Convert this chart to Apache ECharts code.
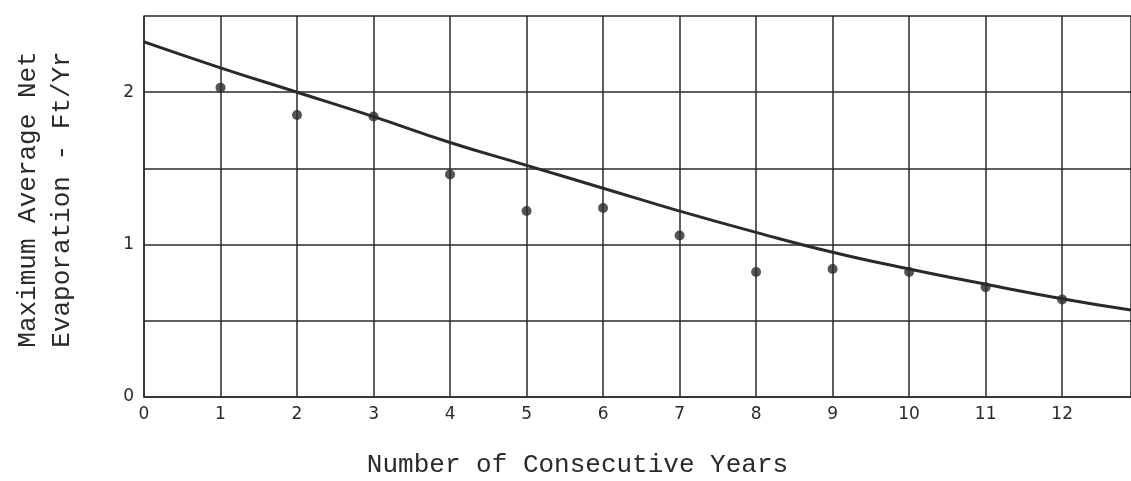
<!DOCTYPE html>
<html>
<head>
<meta charset="utf-8">
<script src="https://cdn.jsdelivr.net/npm/echarts@6/dist/echarts.min.js"></script>
<style>
  html, body { margin: 0; padding: 0; background: #fff; }
  #chart { width: 1131px; height: 481px; }
</style>
</head>
<body>
<div id="chart"></div>
<script>
// observed points (years, ft/yr)
const pointYears = [1, 2, 3, 4, 5, 6, 7, 8, 9, 10, 11, 12];
const pointValues = [2.03, 1.85, 1.84, 1.46, 1.22, 1.24, 1.06, 0.82, 0.84, 0.82, 0.72, 0.64];

// smooth envelope curve
const curveYears = [0, 1, 2, 3, 4, 5, 6, 7, 8, 9, 10, 11, 12, 12.9];
const curveValues = [2.33, 2.16, 2.0, 1.84, 1.67, 1.52, 1.37, 1.22, 1.08, 0.95, 0.84, 0.74, 0.645, 0.57];

const ink = '#2a2a2a';
const chartDom = document.getElementById('chart');
const myChart = echarts.init(chartDom);

const option = {
  animation: false,
  grid: { left: 144, right: 0, top: 16, bottom: 84, containLabel: false, outerBoundsMode: 'none' },
  xAxis: {
    type: 'value',
    min: 0,
    max: 12.9,
    interval: 1,
    name: 'Number of Consecutive Years',
    nameLocation: 'middle',
    nameGap: 55,
    // title sits a bit left of the plot centre in the original
    nameTextStyle: { fontFamily: 'Liberation Mono', fontSize: 26, color: ink, padding: [0, 120, 0, 0] },
    axisLine: { show: true, lineStyle: { color: ink, width: 1.5 } },
    axisTick: { show: false },
    axisLabel: {
      fontFamily: 'DejaVu Sans', fontSize: 17, color: ink, margin: 9,
      showMaxLabel: false
    },
    splitLine: { show: true, lineStyle: { color: ink, width: 1.5 } }
  },
  yAxis: {
    type: 'value',
    min: 0,
    max: 2.5,
    interval: 0.5,
    name: 'Maximum Average Net\nEvaporation - Ft/Yr',
    nameLocation: 'middle',
    nameRotate: 90,
    nameGap: 65,
    nameTextStyle: { fontFamily: 'Liberation Mono', fontSize: 26, color: ink, lineHeight: 34, padding: [0, 0, 0, 14] },
    axisLine: { show: true, lineStyle: { color: ink, width: 1.5 } },
    axisTick: { show: false },
    axisLabel: {
      fontFamily: 'DejaVu Sans', fontSize: 17, color: ink, margin: 10,
      formatter: v => (Number.isInteger(v) ? String(v) : '')
    },
    splitLine: { show: true, lineStyle: { color: ink, width: 1.5 } }
  },
  series: [
    {
      type: 'line',
      data: curveYears.map((x, i) => [x, curveValues[i]]),
      smooth: true,
      showSymbol: false,
      lineStyle: { color: ink, width: 3 }
    },
    {
      type: 'scatter',
      data: pointYears.map((x, i) => [x, pointValues[i]]),
      symbolSize: 10,
      itemStyle: { color: ink }
    }
  ]
};
myChart.setOption(option);
</script>
</body>
</html>
